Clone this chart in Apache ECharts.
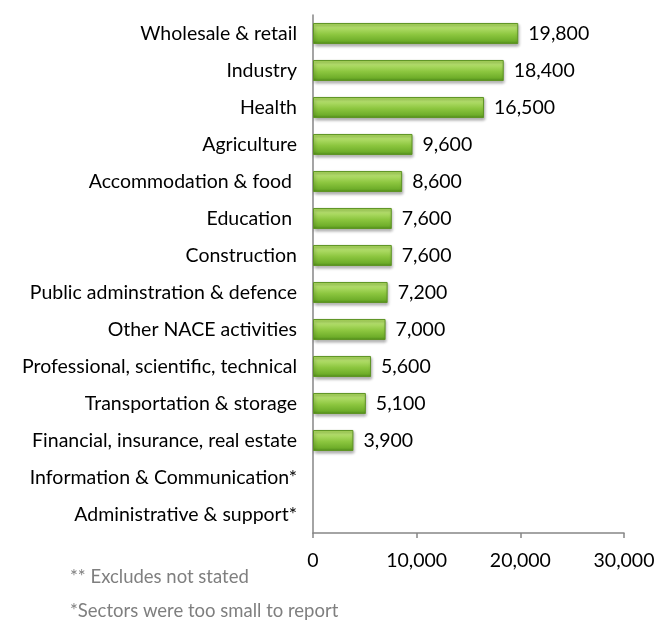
<!DOCTYPE html>
<html>
<head>
<meta charset="utf-8">
<script src="https://cdn.jsdelivr.net/npm/echarts@6/dist/echarts.min.js"></script>
<style>
  html, body { margin: 0; padding: 0; background: #fff; }
  #container { width: 660px; height: 626px; }
</style>
</head>
<body>
<div id="container"></div>
<script>
const container = document.getElementById('container');
const chartIns = echarts.init(container, undefined, { renderer: 'canvas' });

// sectors, top to bottom
const sectors = [
  'Wholesale & retail',
  'Industry',
  'Health',
  'Agriculture',
  'Accommodation & food ',
  'Education ',
  'Construction',
  'Public adminstration & defence',
  'Other NACE activities',
  'Professional, scientific, technical',
  'Transportation & storage',
  'Financial, insurance, real estate',
  'Information & Communication*',
  'Administrative & support*'
];
const values = [19800, 18400, 16500, 9600, 8600, 7600, 7600, 7200, 7000, 5600, 5100, 3900, null, null];
const footnotes = ['** Excludes not stated', '*Sectors were too small to report'];

const FONT = 'Lato';
const FS = 19.5;

const barStyle = {
  color: new echarts.graphic.LinearGradient(0, 0, 0, 1, [
    { offset: 0, color: '#a4d554' },
    { offset: 0.2, color: '#b4df6c' },
    { offset: 0.55, color: '#8cc63f' },
    { offset: 0.85, color: '#6fae2a' },
    { offset: 1, color: '#4f8a1a' }
  ]),
  borderColor: '#5e9424',
  borderWidth: 1,
  shadowColor: 'rgba(0,0,0,0.3)',
  shadowBlur: 3,
  shadowOffsetY: 2,
  shadowOffsetX: 1
};

const option = {
  animation: false,
  grid: { left: 313, right: 36, top: 15, bottom: 93, containLabel: false },
  xAxis: {
    type: 'value',
    min: 0,
    max: 30000,
    interval: 10000,
    axisLine: { show: true, lineStyle: { color: '#868686', width: 1.5 } },
    axisTick: { show: true, length: 5, lineStyle: { color: '#868686', width: 1.5 } },
    splitLine: { show: false },
    axisLabel: {
      color: '#000', fontFamily: FONT, fontSize: FS, margin: 18,
      formatter: v => v.toLocaleString('en-US')
    }
  },
  yAxis: {
    type: 'category',
    inverse: true,
    data: sectors,
    axisLine: { show: true, lineStyle: { color: '#868686', width: 1.5 } },
    axisTick: { show: false },
    axisLabel: { color: '#000', fontFamily: FONT, fontSize: FS, margin: 16 }
  },
  series: [{
    type: 'bar',
    data: values,
    barCategoryGap: '43%',
    itemStyle: barStyle,
    label: {
      show: true,
      position: 'right',
      distance: 10,
      color: '#000',
      fontFamily: FONT,
      fontSize: FS,
      formatter: p => p.value == null ? '' : p.value.toLocaleString('en-US')
    }
  }],
  graphic: footnotes.map((t, i) => ({
    type: 'text',
    left: 70,
    top: 568 + i * 34,
    style: { text: t, fill: '#7f7f7f', font: '18.5px ' + FONT }
  }))
};

chartIns.setOption(option);
</script>
</body>
</html>
